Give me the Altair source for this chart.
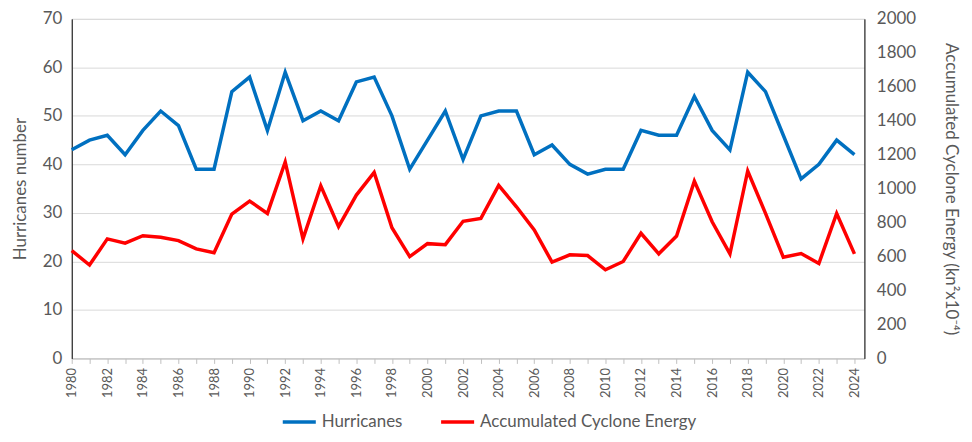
import altair as alt
import pandas as pd

years = list(range(1980, 2025))
hurricanes = [43, 45, 46, 42, 47, 51, 48, 39, 39, 55, 58, 47, 59, 49, 51, 49, 57, 58, 50, 39,
              45, 51, 41, 50, 51, 51, 42, 44, 40, 38, 39, 39, 47, 46, 46, 54, 47, 43, 59, 55,
              46, 37, 40, 45, 42]
ace = [635, 550, 704, 679, 723, 714, 694, 645, 622, 850, 927, 854, 1157, 704, 1017, 776, 962, 1095, 770, 600,
       676, 670, 808, 825, 1019, 893, 757, 567, 610, 606, 522, 571, 737, 616, 721, 1044, 805, 616, 1104, 854,
       596, 618, 559, 854, 616]

df = pd.DataFrame({"year": years, "Hurricanes": hurricanes, "ACE": ace})

series_names = ["Hurricanes", "Accumulated Cyclone Energy"]
series_colors = ["#0070C0", "#FF0000"]

FONT = "Lato"
GREY = "#595959"

x_enc = alt.X(
    "year:Q",
    scale=alt.Scale(domain=[1980, 2024.56], nice=False, zero=False),
    axis=alt.Axis(
        title=None,
        values=years,
        format="d",
        labelExpr="datum.value % 2 == 0 ? datum.label : ''",
        labelAngle=-90,
        labelAlign="right",
        labelBaseline="middle",
        labelFontSize=13,
        labelColor=GREY,
        labelPadding=4,
        tickSize=5,
        tickColor="#BFBFBF",
        domainColor="#BFBFBF",
        grid=False,
    ),
)

color_enc = alt.Color(
    "series:N",
    scale=alt.Scale(domain=series_names, range=series_colors),
    legend=alt.Legend(
        title=None,
        orient="none",
        legendX=210,
        legendY=386,
        direction="horizontal",
        symbolType="stroke",
        symbolStrokeWidth=3.5,
        symbolSize=1100,
        labelFontSize=17,
        labelColor=GREY,
        labelFont=FONT,
        labelLimit=400,
        columnPadding=30,
    ),
)

left = alt.Chart(df).transform_calculate(series="'Hurricanes'").mark_line(strokeWidth=3.5).encode(
    x=x_enc,
    y=alt.Y(
        "Hurricanes:Q",
        scale=alt.Scale(domain=[0, 70], nice=False),
        axis=alt.Axis(
            title="Hurricanes number",
            values=list(range(0, 71, 10)),
            orient="left",
            grid=True,
            gridColor="#D9D9D9",
            gridWidth=1,
            domainColor="#000000",
            ticks=False,
            labelFontSize=17,
            labelColor=GREY,
            labelPadding=10,
            titleFontSize=17,
            titleColor=GREY,
            titleFontWeight="normal",
            titlePadding=13,
        ),
    ),
    color=color_enc,
)

right = alt.Chart(df).transform_calculate(series="'Accumulated Cyclone Energy'").mark_line(strokeWidth=3.5).encode(
    x=x_enc,
    y=alt.Y(
        "ACE:Q",
        scale=alt.Scale(domain=[0, 2000], nice=False),
        axis=alt.Axis(
            title="Accumulated Cyclone Energy (kn²x10⁻⁴)",
            values=list(range(0, 2001, 200)),
            format="d",
            orient="right",
            grid=False,
            domainColor="#000000",
            ticks=False,
            labelFontSize=17,
            labelColor=GREY,
            labelPadding=12,
            titleFontSize=17,
            titleColor=GREY,
            titleFontWeight="normal",
            titlePadding=26,
        ),
    ),
    color=color_enc,
)

chart = alt.layer(left, right).resolve_scale(y="independent").properties(
    width=796,
    height=341,
    autosize=alt.AutoSizeParams(type="none"),
    padding={"left": 64, "top": 10, "right": 100, "bottom": 75},
).configure_view(stroke=None).configure(font=FONT)

chart.save("out.html", embed_options={"renderer": "svg", "actions": False})
